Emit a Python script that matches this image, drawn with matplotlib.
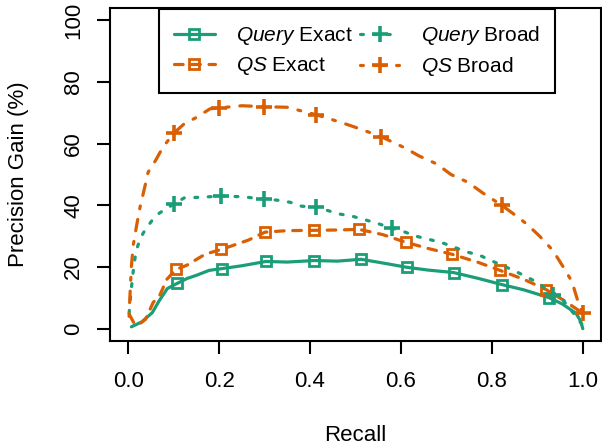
import matplotlib
matplotlib.use("Agg")
import matplotlib.pyplot as plt

plt.rcParams['font.family'] = ['Liberation Sans', 'DejaVu Sans']
plt.rcParams['mathtext.fontset'] = 'custom'
plt.rcParams['mathtext.rm'] = 'Liberation Sans'
plt.rcParams['mathtext.it'] = 'Liberation Sans:italic'

GREEN = '#1B9E77'
ORANGE = '#D95F02'

# ---- data ----
qe_recall = [0.007, 0.03, 0.053, 0.068, 0.086, 0.108, 0.13, 0.15, 0.178, 0.207, 0.25, 0.303, 0.35,
             0.409, 0.46, 0.512, 0.56, 0.613, 0.66, 0.716, 0.77, 0.822, 0.87, 0.925, 0.955, 0.985, 0.995, 1.0]
qe_gain = [0.6, 2.2, 5.2, 9.0, 13.0, 14.7, 16.3, 17.3, 18.9, 19.5, 20.4, 21.8, 21.6,
           22.1, 21.9, 22.5, 21.3, 19.9, 19.0, 18.2, 16.3, 14.3, 12.6, 10.1, 8.0, 5.0, 2.5, 0.0]
qe_marks = [5, 9, 11, 13, 15, 17, 19, 21, 23]

qse_recall = [0.003, 0.012, 0.022, 0.038, 0.055, 0.07, 0.085, 0.105, 0.128, 0.17, 0.205, 0.264, 0.301,
              0.35, 0.409, 0.46, 0.508, 0.56, 0.611, 0.66, 0.713, 0.77, 0.818, 0.87, 0.919, 0.96, 1.0]
qse_gain = [4.5, 2.0, 1.2, 3.0, 8.5, 11.0, 16.0, 19.2, 20.5, 24.2, 25.7, 28.7, 31.3,
            31.8, 31.9, 32.0, 32.2, 30.5, 28.0, 26.0, 24.1, 21.5, 18.9, 16.0, 12.7, 9.0, 5.0]
qse_marks = [7, 10, 12, 14, 16, 18, 20, 22, 24]

qb_recall = [0.002, 0.005, 0.009, 0.013, 0.018, 0.025, 0.033, 0.042, 0.052, 0.064, 0.084, 0.101, 0.123,
             0.156, 0.204, 0.25, 0.299, 0.327, 0.356, 0.382, 0.413, 0.437, 0.464, 0.492, 0.519, 0.547,
             0.58, 0.602, 0.633, 0.66, 0.688, 0.716, 0.742, 0.773, 0.798, 0.826, 0.852, 0.879, 0.905,
             0.934, 0.955, 0.985, 1.0]
qb_gain = [5.0, 10.0, 16.0, 21.0, 25.5, 28.5, 31.0, 33.0, 35.0, 37.0, 39.0, 40.4, 42.4,
           42.6, 43.0, 42.8, 42.0, 41.7, 41.0, 39.7, 39.5, 38.4, 37.2, 36.5, 35.4, 34.2,
           32.6, 31.7, 30.0, 29.0, 28.0, 26.5, 25.0, 23.8, 22.1, 20.3, 18.6, 16.6, 14.6,
           11.0, 9.5, 4.0, 1.0]
qb_marks = [11, 14, 16, 20, 26, 39]

qsb_recall = [0.002, 0.003, 0.005, 0.007, 0.011, 0.018, 0.026, 0.035, 0.044, 0.06, 0.077, 0.101, 0.123,
              0.15, 0.18, 0.2, 0.25, 0.299, 0.35, 0.413, 0.466, 0.5, 0.556, 0.609, 0.64, 0.679, 0.71,
              0.747, 0.78, 0.822, 0.845, 0.877, 0.905, 0.934, 0.957, 0.976, 0.99, 1.0]
qsb_gain = [4.0, 8.0, 14.0, 20.0, 27.0, 33.0, 39.4, 45.0, 50.8, 54.5, 59.0, 63.5, 66.4,
            68.5, 71.3, 71.6, 72.3, 72.0, 71.8, 69.4, 67.0, 65.3, 62.3, 58.6, 56.0, 53.4, 50.0,
            47.5, 44.0, 40.0, 37.5, 33.9, 30.0, 25.4, 20.0, 15.3, 8.5, 5.0]
qsb_marks = [11, 15, 17, 19, 22, 29, 37]

labels = ['$\\mathit{Query}$ Exact', '$\\mathit{QS}$ Exact', '$\\mathit{Query}$ Broad', '$\\mathit{QS}$ Broad']
x_ticks = [0.0, 0.2, 0.4, 0.6, 0.8, 1.0]
y_ticks = [0, 20, 40, 60, 80, 100]

FS = 16
LFS = 15

fig = plt.figure(figsize=(6.02, 4.45), dpi=100)
ax = fig.add_axes([110/602, 1 - 341/445, 491/602, 333/445])

LW = 2.3
sq = dict(marker='s', markersize=7, markerfacecolor='none', markeredgewidth=2.0)
pl = dict(marker='+', markersize=12, markeredgewidth=2.6)

l1, = ax.plot(qe_recall, qe_gain, color=GREEN, lw=LW, linestyle='-', markevery=qe_marks,
              markeredgecolor=GREEN, **sq)
l2, = ax.plot(qse_recall, qse_gain, color=ORANGE, lw=LW, linestyle=(0, (2.7, 2.7)), markevery=qse_marks,
              markeredgecolor=ORANGE, **sq)
l3, = ax.plot(qb_recall, qb_gain, color=GREEN, lw=LW, linestyle=(0, (0.9, 3.3)), markevery=qb_marks,
              markeredgecolor=GREEN, **pl)
l4, = ax.plot(qsb_recall, qsb_gain, color=ORANGE, lw=LW, linestyle=(0, (0.9, 3.4, 3.6, 3.4)), markevery=qsb_marks,
              markeredgecolor=ORANGE, **pl)
for l in (l1, l2, l3, l4):
    l.set_dash_capstyle('round')
    l.set_solid_capstyle('round')

ax.set_xlim(-0.04, 1.04)
ax.set_ylim(-4, 104)
ax.set_xticks(x_ticks)
ax.set_xticklabels([f'{v:.1f}' for v in x_ticks])
ax.set_yticks(y_ticks)
ax.set_yticklabels([str(v) for v in y_ticks], rotation=90, va='center')

for s in ax.spines.values():
    s.set_linewidth(1.5)
ax.tick_params(axis='both', length=9.5, width=1.5, labelsize=FS, direction='out')
ax.tick_params(axis='x', pad=12)
ax.tick_params(axis='y', pad=9)

ax.set_xlabel('Recall', fontsize=FS)
ax.xaxis.set_label_coords(0.5, -0.253)
ax.set_ylabel('Precision Gain (%)', fontsize=FS)
ax.yaxis.set_label_coords(-0.165, 0.5)

leg = ax.legend([l1, l2, l3, l4], labels, ncol=2, loc='upper left',
                bbox_to_anchor=(48/491, 1.0), fontsize=LFS, frameon=True, fancybox=False,
                framealpha=1, edgecolor='black', borderpad=0.72, handlelength=1.95,
                handletextpad=1.0, columnspacing=0.35, labelspacing=0.38, borderaxespad=0.05)
leg.get_frame().set_linewidth(1.5)

fig.savefig('out.png', dpi=100)
